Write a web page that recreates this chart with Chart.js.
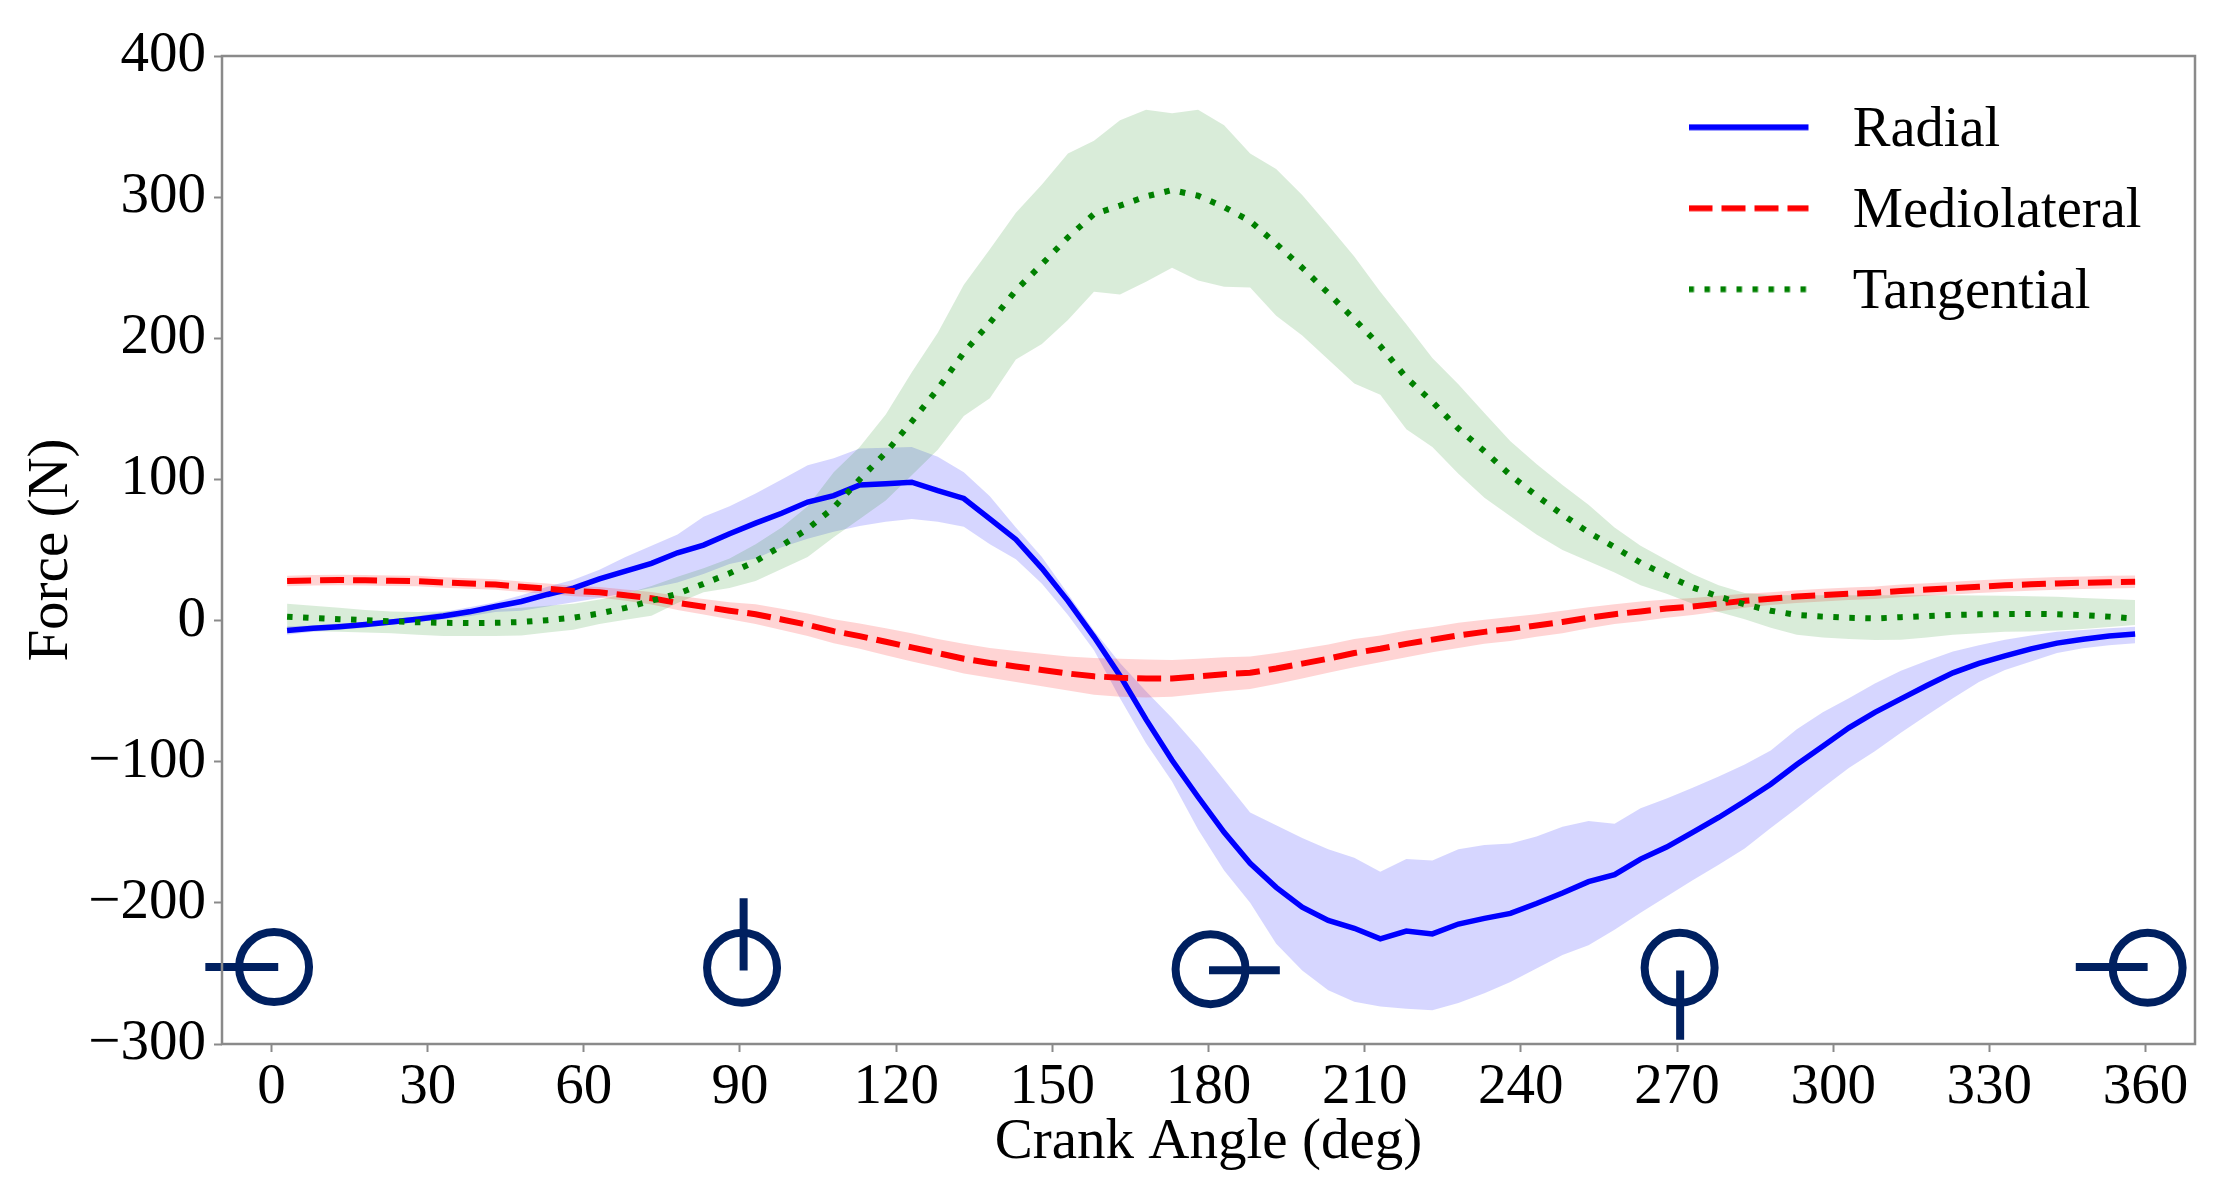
<!DOCTYPE html>
<html><head><meta charset="utf-8">
<style>html,body{margin:0;padding:0;background:#fff}canvas{display:block;filter:blur(0.7px)}</style>
<script src="https://cdn.jsdelivr.net/npm/chart.js@4"></script>
</head><body>
<canvas id="c" width="2222" height="1194" style="width:2222px;height:1194px"></canvas>
<script>
const angles = [3,8,13,18,23,28,33,38,43,48,53,58,63,68,73,78,83,88,93,98,103,108,113,118,123,128,133,138,143,148,153,158,163,168,173,178,183,188,193,198,203,208,213,218,223,228,233,238,243,248,253,258,263,268,273,278,283,288,293,298,303,308,313,318,323,328,333,338,343,348,353,358];
const radial = [-7,-5.5,-4.3,-2.8,-1,1,3.3,6.2,10,13.5,18.5,23,29.5,35,40.5,48,53.5,61.5,69,76,84,88.5,96,97,98,92,86.5,72,57.5,37,14,-11.5,-39,-70,-99,-125,-150,-172,-189,-203,-212.5,-218,-225.5,-220,-222,-215,-211,-207.5,-200.5,-193,-185,-180,-169,-160.5,-150,-139.5,-128,-116,-102,-89,-76,-65,-55.5,-46,-37,-30.3,-25,-20,-16,-13.2,-11,-9.5];
const radialUpper = [-4,-3.5,-2,-1,1,3,6,9.5,13,18,24,29,36,45,53,61,73.5,81,90,100,110,115,122,122.5,123,116,105,88,66,45,19,-7,-30,-50,-69,-90,-113,-136,-145,-154,-162,-168,-178,-169,-170,-162,-159,-158,-153,-146,-142,-144,-133,-126,-118.5,-110.5,-102,-92,-77,-65,-55,-44.5,-35.5,-28.5,-22,-17.4,-13.5,-10.5,-8,-6.6,-5.5,-4.4];
const radialLower = [-10,-8,-6.5,-5,-3,-1,1,3,6,7,10,13,16,19.5,23,27,33,40,44,52,58,63,67,70,72,70,66.5,54,43.5,26,4,-21,-55,-87,-114,-148,-177,-200,-229,-248,-262,-270,-273.5,-275,-276,-271,-264,-256,-246.5,-237,-230,-219,-207,-195.5,-184,-173,-161.5,-147,-133,-118.5,-104.5,-92.5,-79.5,-67,-55,-43.5,-35,-29,-23,-19.6,-17.5,-16];
const mediolateral = [28,28.5,28.7,28.5,28.2,28,27,26.2,25.5,24,22.5,21,20,18,15.8,12.5,9.8,7,4.5,0.8,-3,-7.5,-11,-15,-19,-23,-27,-30,-32.5,-35,-37.5,-39.5,-40.5,-41,-41,-39.5,-38,-37,-34,-30.5,-27,-23,-20,-16.5,-13.5,-10.5,-8,-6,-3.5,-1,2,4.5,6.5,8.5,10,12,14,15.5,17,18,19,19.7,21,22,23,24,25,25.7,26.3,26.8,27.2,27.5];
const mediolateralUpper = [31.7,32.2,32.4,32.2,31.9,31.7,30.7,29.9,29.2,27.7,26.2,24.7,23.7,22,20.3,17.5,15.3,13,11.5,8.3,5,1,-2,-5.5,-9,-13,-16.5,-19.5,-21.5,-23.5,-25.5,-26.5,-27,-27.5,-28,-27,-26,-25.5,-23,-20,-17,-13,-10.5,-7,-4.5,-1.5,0.5,2.5,4.5,7,9.5,11.5,13.5,15,16,17.5,19,20,21.5,22.5,23.5,24.2,25.5,26.5,27.5,28.5,29.5,30.2,30.8,31.3,31.7,32];
const mediolateralLower = [24.3,24.8,25,24.8,24.5,24.3,23.3,22.5,21.8,20.3,18.8,17.3,16.3,14,11.3,7.5,4.3,1,-2.5,-6.7,-11,-16,-20,-24.5,-29,-33,-37.5,-40.5,-43.5,-46.5,-49.5,-52.5,-54,-54.5,-54,-52,-50,-48.5,-45,-41,-37,-33,-29.5,-26,-22.5,-19.5,-16.5,-14.5,-11.5,-9,-5.5,-2.5,-0.5,2,4,6.5,9,11,12.5,13.5,14.5,15.2,16.5,17.5,18.5,19.5,20.5,21.2,21.8,22.3,22.7,23];
const tangential = [2.7,1.8,1,0.3,-0.5,-1.2,-1.6,-1.7,-1.6,-1,0.3,2,5,9,14,19,26,33.5,42,53,65,80,100,119,141,164,190,211,234,252.5,271.5,288,294,300.5,305,301,293,283,267,250,232,213.5,194.5,172,155,136,120,103,88.5,75,62.5,52,41,32,23.5,17,11.5,7,4,2.8,2,1.5,2.4,3.2,4,4.4,4.6,4.7,4.5,3.8,2.8,1.3];
const tangentialUpper = [12,10.5,9,7.5,6.5,6,6.5,7,8,9,10.5,12,15,19,24.5,31,37,44,54,66,81,105,123,146,176,204,238,263,289,309,331,340,354.5,362,359.5,362,351,331,320,301.5,280,258,233,210,186,167.5,147,127,111,96,82,66,53,43,33,25,19.5,18.2,18,18,18,18,18,18,18,17.7,17.5,17.2,16.8,16,15.3,14.5];
const tangentialLower = [-7,-7.5,-8,-8.5,-9,-10,-11,-11,-11,-10.5,-8.5,-6.5,-2.5,0.5,3.5,12.5,20,23,28,36.5,45,59,72,85,103,121,145,157.5,185,196,213,233,231,240,250,241,236.6,236,216,202,185,168,160,135.5,123,104,87,74,61,50,42,34,25,19,12,6,1,-5,-10,-12,-13,-13.8,-13.5,-12,-10,-9,-8,-7.8,-7,-6,-4.5,-3.2];
const crankCircleAngles = [0.5,90.4,180.4,270.5,360.4];
const crankCircleForces = [-245.5,-246,-247,-246,-246];
const crankArmAngles = [-12.7,1.3,0, 90.7,90.7,0, 180.1,193.7,0, 270.6,270.6,0, 346.6,360.4];
const crankArmForces = [-245.5,-245.5,null, -196.7,-248,null, -247.7,-247.7,null, -248,-297,null, -245.5,-245.5];
const xTicks = {min:-9.5,max:369.5,step:30};
const yTicks = {min:-300,max:400,step:100};
const seriesNames = ['Radial','Mediolateral','Tangential'];

const FONT = 'Liberation Serif';
const NAVY = '#002060';
const pts = ys => ys.map((y,i)=>({x:angles[i],y}));
function sample(color,dash){
  const c=document.createElement('canvas');c.width=136;c.height=14;
  const g=c.getContext('2d');g.strokeStyle=color;g.lineWidth=6;g.setLineDash(dash);
  g.beginPath();g.moveTo(0,3.5);g.lineTo(120,3.5);g.stroke();return c;
}
const mainLine=(label,data,color,dash,order,w)=>({type:'line',label,data:pts(data),borderColor:color,backgroundColor:color,
  borderWidth:w,borderDash:dash,pointRadius:0,pointHitRadius:0,tension:0,fill:false,order,pointStyle:sample(color,dash),borderCapStyle:'butt'});
const band=(data,color,order,fill)=>({type:'line',label:'',data:pts(data),borderWidth:0,borderColor:'transparent',backgroundColor:color,pointRadius:0,tension:0,fill,order});
const DASH=[24,9],DOT=[5.5,10.5];
const datasets=[
  mainLine(seriesNames[0],radial,'#0000ff',[],3,5.5),
  mainLine(seriesNames[1],mediolateral,'#ff0000',DASH,2,6),
  mainLine(seriesNames[2],tangential,'#008000',DOT,1,6),
  band(radialUpper,'rgba(0,0,255,0.16)',6,'+1'),
  band(radialLower,'rgba(0,0,0,0)',6,false),
  band(mediolateralUpper,'rgba(255,0,0,0.17)',5,'+1'),
  band(mediolateralLower,'rgba(0,0,0,0)',5,false),
  band(tangentialUpper,'rgba(0,128,0,0.15)',4,'+1'),
  band(tangentialLower,'rgba(0,0,0,0)',4,false),
  {type:'line',label:'',data:crankCircleAngles.map((x,i)=>({x,y:crankCircleForces[i]})),showLine:false,pointRadius:35,
   pointBorderWidth:8,pointBorderColor:NAVY,pointBackgroundColor:'rgba(0,0,0,0)',clip:false,order:0},
  {type:'line',label:'',data:crankArmAngles.map((x,i)=>({x,y:crankArmForces[i]})),borderColor:NAVY,borderWidth:8,pointRadius:0,tension:0,clip:false,spanGaps:false,order:0}
];
const frame={id:'frame',
  beforeDraw(ch){const l=ch.legend;l.left=1664;l.top=78;l.right=2190;l.bottom=1000;},
  afterDraw(ch){const a=ch.chartArea,g=ch.ctx;g.save();g.strokeStyle='#8a8a8a';g.lineWidth=2.5;g.strokeRect(a.left,a.top,a.right-a.left,a.bottom-a.top);g.restore();}};
const tickFont={family:FONT,size:57};
new Chart(document.getElementById('c'),{
  type:'line',
  data:{datasets},
  plugins:[frame],
  options:{
    responsive:false,animation:false,devicePixelRatio:1,
    layout:{padding:{top:56,right:27,left:0,bottom:0},autoPadding:false},
    plugins:{
      tooltip:{enabled:false},
      legend:{position:'chartArea',align:'start',display:true,
        labels:{usePointStyle:true,pointStyleWidth:136,boxHeight:14,padding:24.5,color:'#000',
          font:{family:FONT,size:56.5,lineHeight:1},
          filter:it=>seriesNames.includes(it.text),
          sort:(a,b)=>a.datasetIndex-b.datasetIndex}}
    },
    scales:{
      x:{type:'linear',min:xTicks.min,max:xTicks.max,
        afterFit:s=>{s.height=150},
        grid:{drawOnChartArea:false,drawTicks:true,tickLength:8,tickWidth:2,tickColor:'#8a8a8a'},
        border:{display:false},
        ticks:{stepSize:xTicks.step,includeBounds:false,autoSkip:false,maxRotation:0,minRotation:0,padding:2,color:'#000',font:tickFont},
        title:{display:true,text:'Crank Angle (deg)',color:'#000',font:{family:FONT,size:57},padding:{top:0,bottom:17}}},
      y:{type:'linear',min:yTicks.min,max:yTicks.max,
        afterFit:s=>{s.width=222},
        grid:{drawOnChartArea:false,drawTicks:true,tickLength:8,tickWidth:2,tickColor:'#8a8a8a'},
        border:{display:false},
        ticks:{stepSize:yTicks.step,padding:8,color:'#000',font:tickFont,
          callback:v=>v<0?'\u2212'+Math.abs(v):String(v)},
        title:{display:true,text:'Force (N)',color:'#000',font:{family:FONT,size:57},padding:{top:18,bottom:0}}}
    }
  }
});
</script>
</body></html>
